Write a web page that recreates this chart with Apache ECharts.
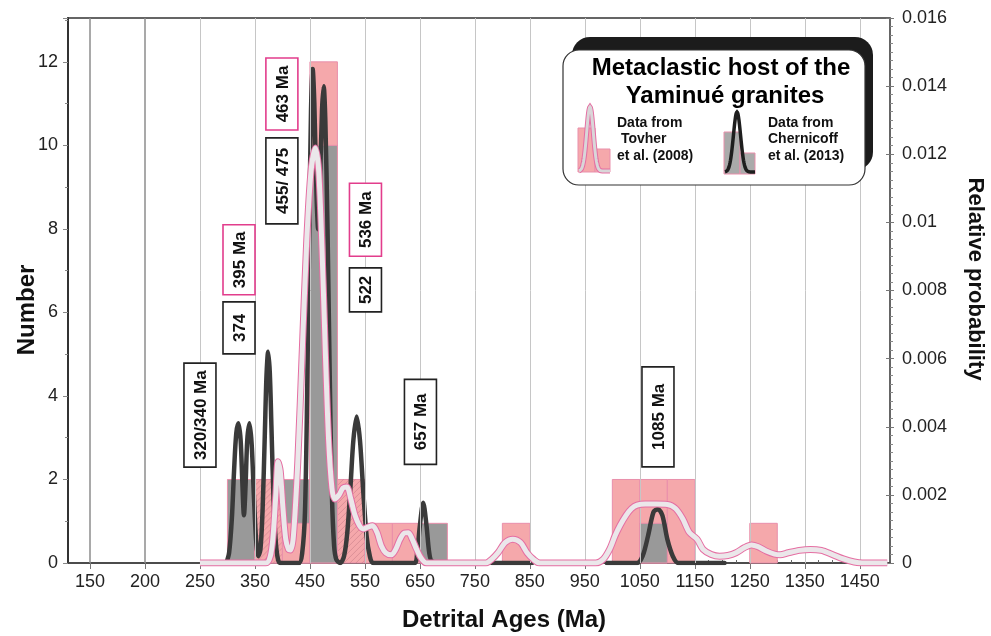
<!DOCTYPE html>
<html><head><meta charset="utf-8">
<script src="https://cdn.jsdelivr.net/npm/echarts@6/dist/echarts.min.js"></script>
<style>html,body{margin:0;padding:0;background:#fff}#c{width:991px;height:636px}</style>
</head><body><div id="c"></div>
<script>
// ---------------- DATA ----------------
const xTickAges = [150, 200, 250, 350, 450, 550, 650, 750, 850, 950, 1050, 1150, 1250, 1350, 1450];
const binWidth = 50;

// Tovher et al. (2008) histogram (pink)
const tovherBins   = [350, 400, 450, 500, 550, 600, 800, 1000, 1050, 1100, 1250];
const tovherCounts = [2, 0.95, 12, 2, 0.95, 0.95, 0.95, 2, 2, 2, 0.95];
const tovherHatchedBins = [350, 500];

// Chernicoff et al. (2013) histogram (gray)
const chernicoffBins   = [300, 350, 400, 450, 650, 1050];
const chernicoffCounts = [2, 2, 2, 10, 0.95, 0.95];
const chernicoffOnTopBins = [450, 650, 1050];

// Chernicoff probability curve (age, relative probability)
const chernicoffCurve = [
  [298,0],[303,0.0003],[308,0.0013],[312,0.0027],[316,0.0038],[320,0.0041],[324,0.0036],[327,0.0024],
  [330,0.0014],[333,0.0023],[336,0.0036],[340,0.0041],[344,0.0035],[348,0.0020],[352,0.0007],[356,0.0002],
  [360,0.0004],[364,0.0016],[368,0.0038],[371,0.0055],[374,0.0062],[377,0.0056],[380,0.0040],[384,0.0018],
  [388,0.0006],[392,0.0001],[396,0],[430,0],[436,0.0003],[441,0.0015],[445,0.0050],[449,0.0100],[452,0.0133],
  [455,0.0145],[458,0.0135],[462,0.0108],[465,0.0098],[468,0.0110],[472,0.0133],[475,0.0140],[478,0.0130],
  [482,0.0098],[486,0.0055],[490,0.0020],[494,0.0005],[498,0.0001],[505,0],[512,0.0002],[518,0.0009],
  [524,0.0023],[529,0.0036],[535,0.0043],[541,0.0036],[547,0.0021],[553,0.0008],[559,0.0002],[565,0],
  [640,0],[645,0.0003],[650,0.0011],[656,0.00177],[662,0.0011],[667,0.0003],[672,0.00005],[695,0],
  [null,null],[781,0],[854,0],[null,null],
  [990,0],[1045,0],[1055,0.0002],[1065,0.0008],[1075,0.0015],[1083,0.00158],[1091,0.0014],[1100,0.0007],
  [1110,0.0002],[1120,0],[1204,0]
];

// Tovher probability curve (age, relative probability)
const tovherCurve = [
  [250,0],[370,0],[378,0.0002],[383,0.0008],[388,0.0020],[392,0.00297],[396,0.0027],[401,0.0016],[406,0.0007],
  [411,0.0004],[415,0.00038],[420,0.0008],[428,0.0030],[436,0.0062],[444,0.0094],[452,0.0115],[460,0.01218],
  [466,0.0115],[472,0.0092],[478,0.0062],[484,0.0036],[490,0.0022],[495,0.00188],[503,0.0020],[510,0.0022],
  [517,0.00223],[524,0.0019],[532,0.0014],[540,0.0011],[547,0.0010],[555,0.00105],[564,0.00109],[572,0.0009],
  [580,0.0005],[588,0.0003],[598,0.00024],[606,0.0004],[614,0.0007],[622,0.00088],[629,0.00089],[636,0.0007],
  [644,0.0004],[652,0.00015],[662,0],[770,0],[780,0.0001],[792,0.0003],[805,0.0006],[819,0.0007],[833,0.0006],
  [845,0.0003],[857,0.0001],[868,0],[970,0],[983,0.0001],[995,0.0004],[1005,0.0008],[1014,0.0011],[1025,0.0014],
  [1035,0.0016],[1045,0.0017],[1060,0.00173],[1080,0.00173],[1100,0.00172],[1115,0.0016],[1128,0.0013],
  [1140,0.0009],[1154,0.0007],[1165,0.0004],[1180,0.00025],[1195,0.0002],[1210,0.00022],[1225,0.0003],
  [1240,0.00045],[1253,0.00053],[1265,0.00048],[1280,0.00035],[1295,0.00026],[1305,0.00024],[1320,0.0003],
  [1340,0.00037],[1360,0.0004],[1380,0.00037],[1400,0.00025],[1420,0.00012],[1440,0.00003],[1455,0],[1500,0]
];

// Peak annotations
const annoText   = ['320/340 Ma', '374', '395 Ma', '455/ 475', '463 Ma', '536 Ma', '522', '657 Ma', '1085 Ma'];
const annoAge    = [250, 321, 321, 399, 399, 551, 551, 651, 1083];
const annoNumber = [3.54, 5.63, 7.26, 9.15, 11.23, 8.22, 6.54, 3.38, 3.5];
const annoSource = ['C', 'C', 'T', 'C', 'T', 'T', 'C', 'C', 'C'];

// ---------------- STYLE ----------------
const annoBoxLen = [104, 52, 70, 86, 72, 73, 44, 85, 100];
const FONT = "'Liberation Sans', Arial, sans-serif";
const PINK_FILL = '#f5a8ab', PINK_EDGE = '#e98fab', GRAY_FILL = '#999999';
const MAGENTA = '#e23d8c';

// age -> axis position (broken scale below 250 Ma)
function agePos(a) { return a >= 250 ? a : 250 - (250 - a) * 2; }
function posAge(p) { return p >= 250 ? p : 250 - (250 - p) / 2; }
const xTickPos = xTickAges.map(agePos);
const minorPos = [];
for (let a = 275; a < 1500; a += 25) if (!xTickAges.includes(a)) minorPos.push(a);

function hatchPath(r) {
  let d = '';
  const step = 6;
  for (let c = r.x + r.y; c <= r.x + r.width + r.y + r.height; c += step) {
    const xa = Math.max(r.x, c - (r.y + r.height));
    const xb = Math.min(r.x + r.width, c - r.y);
    if (xb > xa) d += 'M' + xa + ' ' + (c - xa) + 'L' + xb + ' ' + (c - xb);
  }
  return d;
}

function barRenderer(fill, stroke, hatchSet) {
  return function (params, api) {
    const x0 = api.value(0), c = api.value(1);
    const p0 = api.coord([x0, c]), p1 = api.coord([x0 + binWidth, 0]);
    const r = { x: p0[0], y: p0[1], width: p1[0] - p0[0], height: p1[1] - p0[1] };
    const children = [{ type: 'rect', shape: r, style: { fill: fill, stroke: stroke, lineWidth: 1 } }];
    if (hatchSet && hatchSet.includes(x0)) {
      children.push({ type: 'path', shape: { pathData: hatchPath(r) }, style: { fill: null, stroke: '#c98089', lineWidth: 0.6 } });
    }
    return { type: 'group', children: children };
  };
}

function annoRenderer(params, api) {
  const i = params.dataIndex;
  const p = api.coord([api.value(0), api.value(1)]);
  const len = annoBoxLen[i], w = 32;
  return {
    type: 'group', x: p[0], y: p[1], rotation: Math.PI / 2,
    children: [
      { type: 'rect', shape: { x: -len / 2, y: -w / 2, width: len, height: w }, style: { fill: '#fff', stroke: annoSource[i] === 'T' ? MAGENTA : '#222', lineWidth: 1.6 } },
      { type: 'text', style: { text: annoText[i], x: 0, y: 1, align: 'center', verticalAlign: 'middle', font: 'bold 17px ' + FONT, fill: '#111' } }
    ]
  };
}

const grayBelow = [], grayAbove = [];
chernicoffBins.forEach((b, i) => (chernicoffOnTopBins.includes(b) ? grayAbove : grayBelow).push([b, chernicoffCounts[i]]));
const pinkData = tovherBins.map((b, i) => [b, tovherCounts[i]]);
const annoData = annoAge.map((a, i) => [a, annoNumber[i]]);

function bell(cx, baseY, peakY, sigma, x0, x1) {
  const pts = [];
  for (let x = x0; x <= x1; x += 0.5) pts.push([x, baseY - (baseY - peakY) * Math.exp(-((x - cx) * (x - cx)) / (2 * sigma * sigma))]);
  return pts;
}

const chart = echarts.init(document.getElementById('c'), null, { renderer: 'canvas' });
chart.setOption({
  animation: false,
  backgroundColor: '#fff',
  textStyle: { fontFamily: FONT },
  grid: { left: 68, right: 101, top: 18, bottom: 73, show: true, borderColor: '#333', borderWidth: 1.5, backgroundColor: 'transparent' },
  xAxis: [{
    type: 'value', min: 10, max: 1505,
    axisLine: { show: true, onZero: false, lineStyle: { color: '#444', width: 1.5 } },
    axisTick: { show: true, customValues: xTickPos, length: 6, lineStyle: { color: '#777' } },
    axisLabel: { customValues: xTickPos, formatter: p => String(Math.round(posAge(p))), fontSize: 18, color: '#222', margin: 10, fontFamily: FONT },
    splitLine: { show: false }
  }, {
    type: 'value', min: 10, max: 1505, position: 'bottom',
    axisLine: { show: false },
    axisTick: { show: true, customValues: minorPos, inside: true, length: 3, lineStyle: { color: '#666' } },
    axisLabel: { show: false }, splitLine: { show: false }
  }],
  yAxis: [{
    type: 'value', min: 0, max: 13.05, interval: 2, position: 'left',
    axisLine: { show: true, lineStyle: { color: '#333', width: 2 } },
    axisTick: { show: true, length: 5, lineStyle: { color: '#888' } },
    minorTick: { show: true, splitNumber: 2, length: 3, lineStyle: { color: '#888' } },
    axisLabel: { formatter: v => (v % 2 === 0 ? String(v) : ''), fontSize: 18, color: '#222', margin: 10, fontFamily: FONT },
    splitLine: { show: false }
  }, {
    type: 'value', min: 0, max: 0.016, interval: 0.002, position: 'right',
    axisLine: { show: true, lineStyle: { color: '#666', width: 1.5 } },
    axisTick: { show: true, length: 4, lineStyle: { color: '#777' } },
    minorTick: { show: true, splitNumber: 8, length: 3, lineStyle: { color: '#888' } },
    axisLabel: { fontSize: 18, color: '#222', margin: 12, fontFamily: FONT },
    splitLine: { show: false }
  }, {
    type: 'value', min: 0, max: 0.016, interval: 0.002, position: 'right',
    axisLine: { show: false },
    axisTick: { show: true, inside: true, length: 4, lineStyle: { color: '#777' } },
    minorTick: { show: false },
    axisLabel: { show: false }, splitLine: { show: false }
  }],
  series: [
    {
      type: 'line', data: [], z: 0, silent: true,
      markLine: {
        silent: true, symbol: 'none', label: { show: false }, animation: false,
        data: xTickPos.map((p, i) => ({ xAxis: p, lineStyle: { type: 'solid', color: i < 2 ? '#8c8c8c' : '#c6c6c6', width: i < 2 ? 1.5 : 1 } }))
      }
    },
    { type: 'custom', z: 1, renderItem: barRenderer(GRAY_FILL, PINK_EDGE, null), data: grayBelow },
    { type: 'custom', z: 2, renderItem: barRenderer(PINK_FILL, PINK_EDGE, tovherHatchedBins), data: pinkData },
    { type: 'custom', z: 3, renderItem: barRenderer(GRAY_FILL, PINK_EDGE, null), data: grayAbove },
    {
      type: 'line', yAxisIndex: 1, z: 4, data: chernicoffCurve, smooth: 0.3, showSymbol: false, connectNulls: false,
      lineStyle: { color: '#3a3a3a', width: 4.5, cap: 'round', join: 'round' }
    },
    {
      type: 'line', yAxisIndex: 1, z: 5, data: tovherCurve, smooth: 0.3, showSymbol: false,
      lineStyle: { color: '#e56ea2', width: 7 }
    },
    {
      type: 'line', yAxisIndex: 1, z: 6, data: tovherCurve, smooth: 0.3, showSymbol: false,
      lineStyle: { color: '#ebe7ea', width: 5 }
    },
    { type: 'custom', z: 10, renderItem: annoRenderer, data: annoData }
  ],
  graphic: [
    // axis titles
    { type: 'text', x: 27, y: 310, rotation: Math.PI / 2, style: { text: 'Number', font: 'bold 24px ' + FONT, fill: '#111', align: 'center', verticalAlign: 'middle' } },
    { type: 'text', x: 504, y: 620, style: { text: 'Detrital Ages (Ma)', font: 'bold 24px ' + FONT, fill: '#111', align: 'center', verticalAlign: 'middle' } },
    { type: 'text', x: 975, y: 279, rotation: -Math.PI / 2, style: { text: 'Relative probability', font: 'bold 22px ' + FONT, fill: '#111', align: 'center', verticalAlign: 'middle' } },
    // legend box
    { type: 'rect', z: 20, shape: { x: 572, y: 37, width: 301, height: 133, r: 18 }, style: { fill: '#1c1c1c' } },
    { type: 'rect', z: 21, shape: { x: 563, y: 50, width: 302, height: 135, r: 16 }, style: { fill: '#fff', stroke: '#333', lineWidth: 1.2 } },
    { type: 'text', z: 22, x: 721, y: 68, style: { text: 'Metaclastic host of the', font: 'bold 24px ' + FONT, fill: '#000', align: 'center', verticalAlign: 'middle' } },
    { type: 'text', z: 22, x: 725, y: 96, style: { text: 'Yaminué granites', font: 'bold 24px ' + FONT, fill: '#000', align: 'center', verticalAlign: 'middle' } },
    // Tovher icon
    { type: 'rect', z: 22, shape: { x: 578, y: 128, width: 17, height: 44 }, style: { fill: PINK_FILL, stroke: PINK_EDGE, lineWidth: 1 } },
    { type: 'rect', z: 22, shape: { x: 595, y: 149, width: 15, height: 23 }, style: { fill: PINK_FILL, stroke: PINK_EDGE, lineWidth: 1 } },
    { type: 'polyline', z: 23, shape: { points: bell(590, 171, 107, 3.3, 579, 610) }, style: { fill: null, stroke: '#e56ea2', lineWidth: 5 } },
    { type: 'polyline', z: 24, shape: { points: bell(590, 171, 107, 3.3, 579, 610) }, style: { fill: null, stroke: '#d9d6d8', lineWidth: 3 } },
    { type: 'text', z: 22, x: 617, y: 123, style: { text: 'Data from', font: 'bold 14px ' + FONT, fill: '#111', verticalAlign: 'middle' } },
    { type: 'text', z: 22, x: 617, y: 139, style: { text: ' Tovher', font: 'bold 14px ' + FONT, fill: '#111', verticalAlign: 'middle' } },
    { type: 'text', z: 22, x: 617, y: 156, style: { text: 'et al. (2008)', font: 'bold 14px ' + FONT, fill: '#111', verticalAlign: 'middle' } },
    // Chernicoff icon
    { type: 'rect', z: 22, shape: { x: 724, y: 132, width: 16, height: 42 }, style: { fill: '#aaaaaa', stroke: PINK_EDGE, lineWidth: 1 } },
    { type: 'rect', z: 22, shape: { x: 740, y: 153, width: 15, height: 21 }, style: { fill: '#aaaaaa', stroke: PINK_EDGE, lineWidth: 1 } },
    { type: 'polyline', z: 23, shape: { points: bell(737, 172, 112, 3.6, 725, 755) }, style: { fill: null, stroke: '#1e1e1e', lineWidth: 3.5 } },
    { type: 'text', z: 22, x: 768, y: 123, style: { text: 'Data from', font: 'bold 14px ' + FONT, fill: '#111', verticalAlign: 'middle' } },
    { type: 'text', z: 22, x: 768, y: 139, style: { text: 'Chernicoff', font: 'bold 14px ' + FONT, fill: '#111', verticalAlign: 'middle' } },
    { type: 'text', z: 22, x: 768, y: 156, style: { text: 'et al. (2013)', font: 'bold 14px ' + FONT, fill: '#111', verticalAlign: 'middle' } }
  ]
});
</script>
</body></html>
